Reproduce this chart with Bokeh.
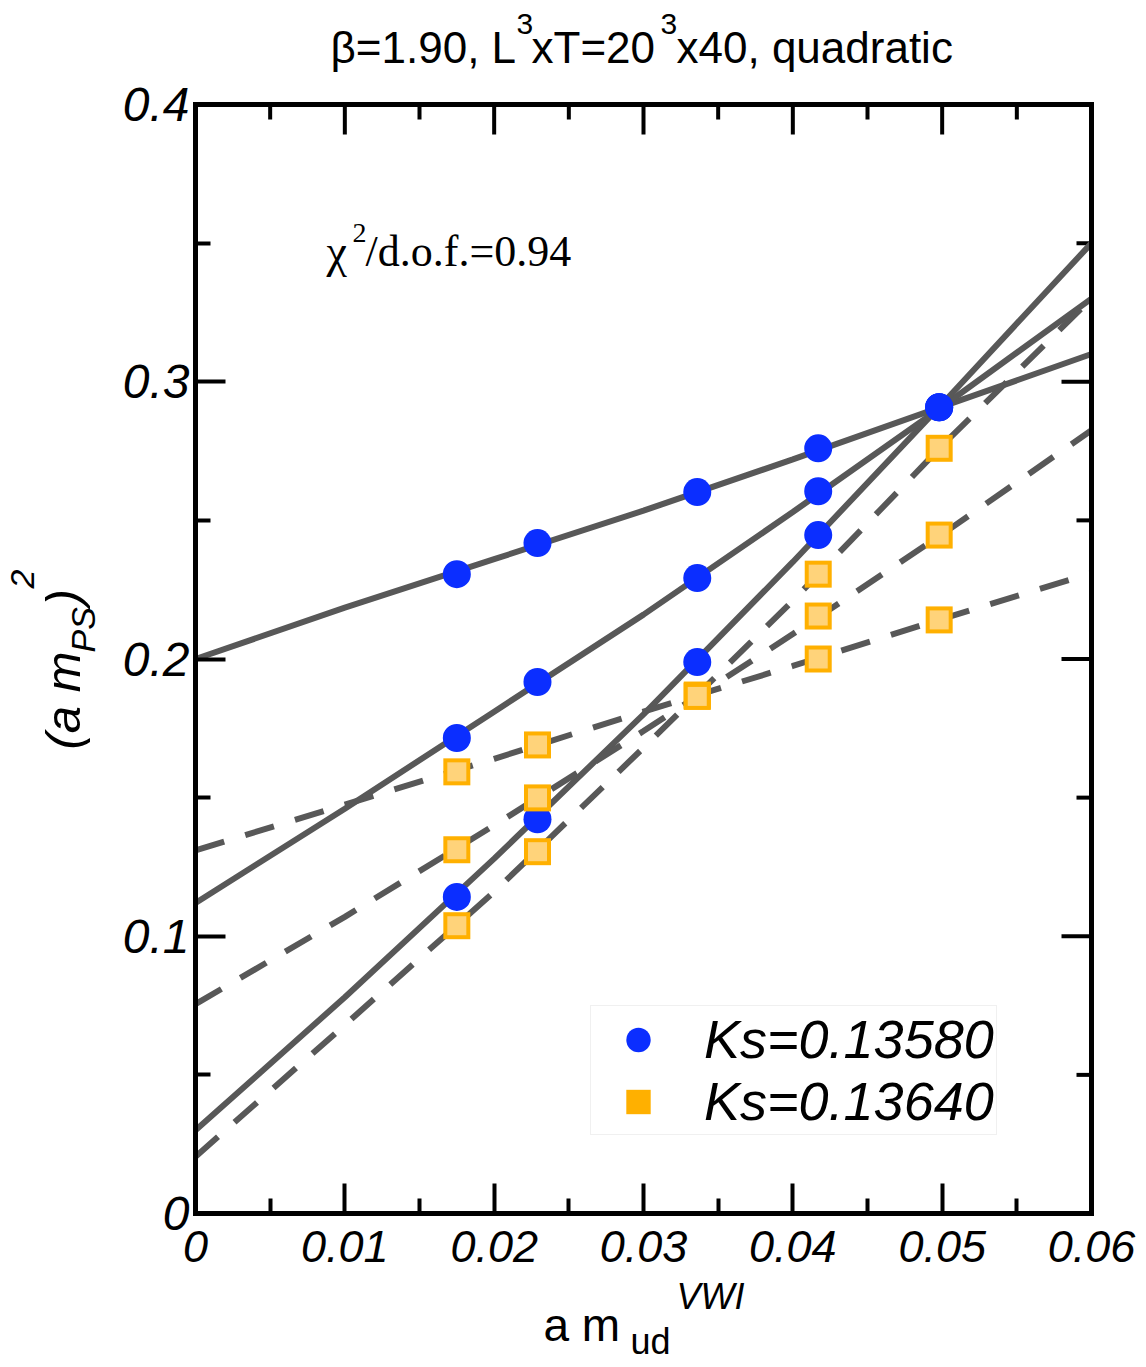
import numpy as np
from bokeh.plotting import figure
from bokeh.models import (Range1d, FixedTicker, LinearAxis, Label, Legend, LegendItem)
from bokeh.embed import file_html
from bokeh.resources import INLINE

# ---------------- data ----------------
x_mass = [0.0175, 0.0229, 0.0336, 0.0417, 0.0498]

# Ks = 0.13580 (blue circles), three valence series
ks1_a = [0.2306, 0.2418, 0.2602, 0.2760, 0.2908]
ks1_b = [0.1715, 0.1917, 0.2292, 0.2605, 0.2908]
ks1_c = [0.1142, 0.1422, 0.1989, 0.2447, 0.2908]

# Ks = 0.13640 (orange squares)
ks2_a = [0.1593, 0.1690, 0.1870, 0.2000, 0.2141]
ks2_b = [0.1312, 0.1499, 0.1867, 0.2155, 0.2447]
ks2_c = [0.1038, 0.1305, 0.1865, 0.2306, 0.2760]

# fitted curves
fit_x = [0.0, 0.01, 0.02, 0.03, 0.04, 0.05, 0.06]
fit1_a = [0.200, 0.2185, 0.236, 0.2535, 0.272, 0.291, 0.310]
fit1_b = [0.112, 0.146, 0.181, 0.216, 0.253, 0.291, 0.330]
fit1_c = [0.030, 0.078, 0.128, 0.180, 0.235, 0.292, 0.350]
fit2_a = [0.131, 0.1475, 0.164, 0.181, 0.1975, 0.2145, 0.231]
fit2_b = [0.0755, 0.107, 0.140, 0.174, 0.209, 0.245, 0.2825]
fit2_c = [0.0205, 0.068, 0.116, 0.168, 0.221, 0.277, 0.330]

x_ticks = [0.0, 0.01, 0.02, 0.03, 0.04, 0.05, 0.06]
x_tick_labels = ["0", "0.01", "0.02", "0.03", "0.04", "0.05", "0.06"]
x_minor = [0.005, 0.015, 0.025, 0.035, 0.045, 0.055]
y_ticks = [0.0, 0.1, 0.2, 0.3, 0.4]
y_tick_labels = ["0", "0.1", "0.2", "0.3", "0.4"]
y_minor = [0.05, 0.15, 0.25, 0.35]
x_lim = (0.0, 0.06)
y_lim = (0.0, 0.4)

legend_labels = ["Ks=0.13580", "Ks=0.13640"]

BLUE = "#0B2EFF"
ORANGE = "#FFB000"
ORANGE_IN = "#FFD37A"
LINE = "#585858"

# ---------------- layout (pixels) ----------------
W, H = 1146, 1367
PL, PR, PT, PB = 195, 1091, 104, 1213   # plot box edges on the page
kx = (x_lim[1] - x_lim[0]) / (PR - PL)
ky = (y_lim[1] - y_lim[0]) / (PB - PT)
x_range = Range1d(x_lim[0] - PL * kx, x_lim[1] + (W - PR) * kx)
y_range = Range1d(y_lim[0] - (H - PB) * ky, y_lim[1] + PT * ky)

p = figure(width=W, height=H, output_backend="svg", toolbar_location=None,
           x_range=x_range, y_range=y_range, min_border=0,
           x_axis_location=None, y_axis_location=None)
p.xgrid.visible = False
p.ygrid.visible = False
p.outline_line_color = None
p.background_fill_color = "white"
p.border_fill_color = "white"

def style_axis(ax, ticks, minor, labels, bounds, loc, fsize="45px"):
    ax.ticker = FixedTicker(ticks=ticks, minor_ticks=minor)
    ax.bounds = bounds
    ax.fixed_location = loc
    ax.axis_line_color = "black"
    ax.axis_line_width = 5
    ax.axis_line_cap = "square"
    ax.major_tick_in = 30
    ax.major_tick_out = 0
    ax.minor_tick_in = 15
    ax.minor_tick_out = 0
    ax.major_tick_line_width = 4
    ax.minor_tick_line_width = 4
    ax.major_tick_line_color = "black"
    ax.minor_tick_line_color = "black"
    if labels:
        ax.major_label_overrides = {t: l for t, l in zip(ticks, labels)}
        ax.major_label_text_font = "Liberation Sans"
        ax.major_label_text_font_style = "italic"
        ax.major_label_text_font_size = fsize
        ax.major_label_text_color = "black"

# labelled axes (bottom, left)
xb = LinearAxis(); style_axis(xb, x_ticks, x_minor, x_tick_labels, x_lim, y_lim[0]); xb.major_label_standoff = 17
yl = LinearAxis(); style_axis(yl, y_ticks, y_minor, y_tick_labels, y_lim, x_lim[0], "48px"); yl.major_label_standoff = 6
# mirror axes (top, right): rule only, ticks drawn as rays below
xt = LinearAxis(); style_axis(xt, [], [], None, x_lim, y_lim[1])
yr = LinearAxis(); style_axis(yr, [], [], None, y_lim, x_lim[1])
p.add_layout(xb, "below")
p.add_layout(xt, "above")
p.add_layout(yl, "left")
p.add_layout(yr, "right")

# mirrored inward ticks on top and right edges
p.ray(x=x_ticks, y=[y_lim[1]] * len(x_ticks), length=30, length_units="screen",
      angle=-np.pi / 2, line_color="black", line_width=4)
p.ray(x=x_minor, y=[y_lim[1]] * len(x_minor), length=15, length_units="screen",
      angle=-np.pi / 2, line_color="black", line_width=4)
p.ray(x=[x_lim[1]] * len(y_ticks), y=y_ticks, length=30, length_units="screen",
      angle=np.pi, line_color="black", line_width=4)
p.ray(x=[x_lim[1]] * len(y_minor), y=y_minor, length=15, length_units="screen",
      angle=np.pi, line_color="black", line_width=4)

# fit curves
for fy in (fit1_a, fit1_b, fit1_c):
    p.line(fit_x, fy, line_color=LINE, line_width=6)
for fy in (fit2_a, fit2_b, fit2_c):
    p.line(fit_x, fy, line_color=LINE, line_width=6, line_dash="30 22")

# points
blue_r = None
for ys in (ks1_a, ks1_b, ks1_c):
    blue_r = p.scatter(x_mass, ys, marker="circle", size=28, fill_color=BLUE, line_color=None)
orange_r = None
for ys in (ks2_a, ks2_b, ks2_c):
    orange_r = p.scatter(x_mass, ys, marker="square", size=27, fill_color=ORANGE, line_color=None)
    p.scatter(x_mass, ys, marker="square", size=19, fill_color=ORANGE_IN, line_color=None)

legend = Legend(items=[LegendItem(label=legend_labels[0], renderers=[blue_r]),
                       LegendItem(label=legend_labels[1], renderers=[orange_r])],
                location=(590, H - 1135), orientation="vertical",
                label_text_font="Liberation Sans", label_text_font_style="italic",
                label_text_font_size="54px", label_text_color="black",
                glyph_width=90, glyph_height=61, padding=2, spacing=0, label_standoff=21,
                border_line_color="#e2e2e2", border_line_width=1,
                background_fill_color="white", background_fill_alpha=1.0)
p.add_layout(legend)

def lab(text, cx, cy, size, font="Liberation Sans", style="normal", angle=0.0):
    p.add_layout(Label(x=cx, y=cy, x_units="canvas", y_units="canvas", text=text,
                       text_font=font, text_font_style=style, text_font_size=size,
                       text_color="black", text_align="left", text_baseline="alphabetic",
                       angle=angle))

# title (canvas pixel positions)
lab("β=1.90, L", 330, 47, "44px")
lab("3", 516, 23, "30px")
lab("xT=20", 531, 47, "44px")
lab("3", 660, 23, "30px")
lab("x40, quadratic", 676, 47, "44px")

# chi^2 annotation
lab("χ", 326, 251, "46px", font="Liberation Serif")
lab("2", 352, 232, "28px", font="Liberation Serif")
lab("/d.o.f.=0.94", 365, 251, "44px", font="Liberation Serif")

# x axis label
lab("a m", 543, 1324, "46px")
lab("ud", 630, 1341, "36px")
lab("VWI", 676, 1296, "36px", style="italic")

# y axis label (rotated)
ang = np.pi / 2
lab("(a m", 62, 749, "49px", style="italic", angle=ang)
lab("PS", 82, 652, "34px", style="italic", angle=ang)
lab(")", 62, 605, "49px", style="italic", angle=ang)
lab("2", 22, 588, "34px", style="italic", angle=ang)

open("out.html", "w").write(file_html(p, INLINE))
